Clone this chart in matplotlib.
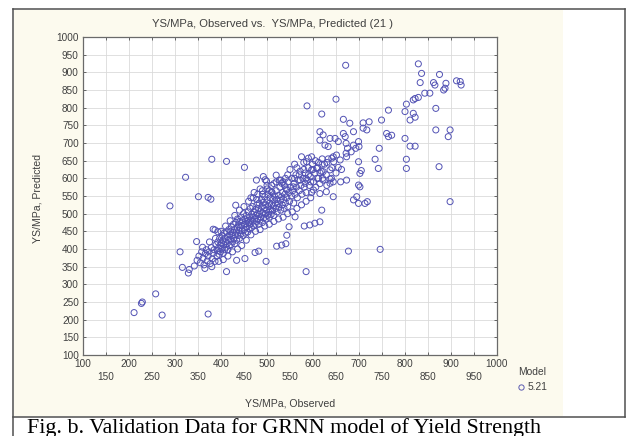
import matplotlib
matplotlib.use("Agg")
import matplotlib.pyplot as plt
from matplotlib.patches import Rectangle
from matplotlib.lines import Line2D

# ---------------- data ----------------
outlier_obs = [211, 227, 229, 258, 272, 372, 289, 323, 351, 372, 378, 380, 412, 451,
               311, 316, 331, 329, 347, 383, 412, 432, 434, 452, 474, 482, 498, 521,
               532, 541, 387, 393, 496, 520, 535, 510, 477, 492, 499, 585, 677, 746,
               543, 548, 561, 581, 593, 604, 615, 619, 688, 699, 713, 718, 898]
outlier_pred = [220, 246, 250, 273, 213, 216, 522, 603, 548, 546, 541, 654, 648, 631,
                392, 348, 342, 332, 421, 456, 336, 524, 368, 373, 390, 394, 365, 408,
                411, 415, 454, 449, 596, 609, 590, 562, 595, 605, 592, 336, 394, 399,
                439, 463, 491, 465, 468, 473, 477, 510, 539, 529, 529, 534, 534]

upper_obs = [587, 619, 650, 671, 666, 680, 709, 722, 749, 764, 717, 709,
             829, 836, 875, 833, 862, 865, 889, 887, 884, 912, 920, 922, 843, 854,
             829, 822, 803, 867, 800, 818, 822, 811, 818,
             867, 898, 894, 771, 800, 764, 760,
             874, 803, 803, 811, 822, 742, 735, 744, 705, 702, 699, 702, 700,
             615, 622, 666, 670, 688, 637, 648, 699, 688, 615, 626, 633, 672, 675,
             683, 672, 651, 641, 645, 575, 590, 586, 597, 699,
             597, 608, 622, 615, 637, 655, 662, 673, 622, 637, 644, 572, 583, 557,
             543, 532, 601, 615, 629, 644, 695, 655, 644, 659, 673, 693]
upper_pred = [805, 782, 824, 920, 767, 756, 757, 760, 765, 793, 737, 742,
              924, 897, 894, 871, 871, 864, 869, 855, 850, 876, 874, 864, 841, 841,
              829, 826, 810, 798, 789, 784, 773, 765, 822,
              737, 737, 718, 722, 713, 718, 727,
              633, 628, 654, 691, 691, 628, 654, 685, 622, 614, 581, 576, 690,
              732, 723, 727, 718, 732, 713, 713, 704, 694, 708, 694, 690, 699, 685,
              675, 671, 666, 657, 647, 661, 657, 647, 661, 647,
              624, 628, 619, 616, 624, 631, 625, 595, 595, 586, 590, 595, 586, 576,
              567, 586, 567, 557, 562, 548, 548, 704, 661, 652, 661, 685]

band_obs = [342, 348, 352, 355, 358, 361, 363, 366, 368, 370, 372, 374, 377, 379, 381,
            383, 385, 387, 389, 391,
            392, 393, 394, 396, 397, 398, 399, 401, 402, 403, 404, 405, 406, 407, 408,
            409, 410, 411, 412, 413, 414, 415, 416, 417, 418, 419, 420,
            421, 422, 423, 424, 425, 426, 427, 428, 429, 430, 431, 432, 433, 434, 435,
            436, 437, 438, 439, 440, 441, 442, 443, 444, 445, 446, 447, 448, 449, 450,
            451, 452, 453, 454, 455, 456, 457, 458, 459, 460, 461, 462, 463, 464, 465,
            466, 467, 468, 469, 470, 471, 472, 473, 474, 475, 476, 477, 478, 479, 480,
            481, 482, 483, 484, 485, 486, 487, 488, 489, 490, 491, 492, 493, 494, 495,
            496, 497, 498, 499, 500, 501, 502, 503, 504, 505, 506, 507, 508, 509, 510,
            511, 512, 513, 514, 515, 516, 518, 519, 520, 521, 522, 524, 525, 526, 528,
            529, 530, 532, 533, 534, 536, 537, 538, 539, 540,
            542, 543, 545, 546, 548, 549, 551, 553, 554, 556, 558, 559, 561, 563, 564,
            566, 568, 570, 572, 574, 576, 578,
            581, 583, 585, 587, 590, 592, 594, 597, 599, 601, 604, 606, 609, 612, 615,
            618, 621, 625, 629, 633, 637, 641,
            465, 472, 478, 485, 490, 500, 505, 515, 527, 545, 550, 560, 565, 580, 590,
            605, 612, 620, 630, 640, 650, 660]
band_pred = [352, 368, 380, 361, 392, 374, 355, 387, 398, 366, 380, 392, 359, 404, 372,
             388, 398, 365, 412, 380,
             395, 420, 402, 385, 430, 410, 392, 418, 400, 438, 425, 388, 412, 445, 398,
             430, 420, 405, 448, 415, 435, 398, 425, 455, 410, 440, 428,
             450, 412, 462, 438, 420, 447, 470, 430, 455, 415, 440, 475, 448, 425, 460,
             485, 438, 468, 452, 430, 478, 460, 442, 490, 466, 452, 480, 438, 500, 470,
             455, 485, 445, 472, 495, 462, 480, 448, 505, 475, 458, 490, 470, 515, 482,
             460, 498, 478, 520, 490, 465, 505, 485, 470, 512, 495, 478, 525, 500, 486,
             515, 470, 530, 498, 482, 508, 490, 540, 520, 475, 502, 532, 488, 515, 548,
             500, 525, 485, 510, 538, 495, 555, 520, 505, 490, 530, 545, 512, 498, 525,
             560, 508, 540, 522, 495, 550, 530, 515, 565, 540, 505, 528, 552, 518, 575,
             538, 510, 548, 525, 560, 540, 515, 580, 555, 530,
             570, 545, 520, 590, 560, 535, 575, 550, 600, 565, 530, 585, 555, 610, 575,
             545, 595, 565, 620, 580, 555, 600,
             575, 615, 560, 595, 630, 580, 605, 560, 640, 590, 615, 575, 600, 645, 585,
             620, 600, 640, 610, 655, 598, 630,
             545, 560, 540, 570, 555, 580, 565, 585, 595, 610, 625, 640, 630, 645, 610,
             650, 600, 640, 580, 600, 615, 590]

edge_obs = [360, 365, 375, 380, 388, 395, 400, 405, 410, 415, 420, 425, 430, 436, 440,
            445, 450, 455, 460, 465, 470, 475, 480, 485, 490, 495, 500, 505, 510, 515,
            520, 525, 530, 535, 540, 545, 555, 565, 575, 585, 595, 560, 570, 580, 600,
            610, 620, 630, 595, 585]
edge_pred = [405, 345, 420, 350, 430, 365, 450, 370, 465, 380, 480, 392, 495, 400, 510,
             410, 520, 425, 535, 440, 545, 450, 555, 455, 565, 465, 570, 470, 580, 478,
             590, 485, 595, 490, 600, 500, 505, 515, 525, 535, 545, 600, 610, 625, 625,
             630, 655, 645, 590, 600]

obs = outlier_obs + upper_obs + band_obs + edge_obs
pred = outlier_pred + upper_pred + band_pred + edge_pred

ticks = list(range(100, 1001, 50))
x_tick_labels = [str(t) if (t // 50) % 2 == 0 else "\n" + str(t) for t in ticks]
y_tick_labels = [str(t) for t in ticks]

title = "YS/MPa, Observed vs.  YS/MPa, Predicted (21 )"
xlabel = "YS/MPa, Observed"
ylabel = "YS/MPa, Predicted"
legend_title = "Model"
legend_entry = "5.21"
caption = "Fig. b. Validation Data for GRNN model of Yield Strength"

# ---------------- figure ----------------
W, H = 627, 436
fig = plt.figure(figsize=(W / 100, H / 100), dpi=100)
fig.patch.set_facecolor("white")

def fx(px):
    return px / W

def fy(py):
    return 1 - py / H

# cream panel + borders
fig.patches.append(Rectangle((fx(14), fy(416)), fx(563) - fx(14), fy(10) - fy(416),
                             transform=fig.transFigure, facecolor="#fcfaee",
                             edgecolor="none", zorder=-5))
bc = "#505050"
for xs, ys in [([13, 13], [9, 436]), ([13, 625], [9, 9]), ([625, 625], [9, 417]),
               ([13, 625], [417, 417])]:
    fig.lines.append(Line2D([fx(v) for v in xs], [fy(v) for v in ys],
                            transform=fig.transFigure, color=bc, lw=1.1, zorder=-4))

ax = fig.add_axes([fx(83), fy(355), fx(497) - fx(83), fy(37) - fy(355)])
ax.set_zorder(1)
ax.set_facecolor("white")
ax.set_xlim(100, 1000)
ax.set_ylim(100, 1000)

ax.set_xticks(ticks)
ax.set_xticklabels(x_tick_labels)
ax.set_yticks(ticks)
ax.set_yticklabels(y_tick_labels)

font = "Liberation Sans"
tc = "#404040"
ax.tick_params(direction="in", length=2.5, width=0.6, top=True, right=True,
               labelsize=7.2, colors="#505050", labelcolor=tc, pad=3)
for lab in ax.get_xticklabels() + ax.get_yticklabels():
    lab.set_fontfamily(font)
    lab.set_linespacing(1.3)

ax.grid(True, color="#dadada", lw=0.6)
ax.set_axisbelow(True)
for s in ax.spines.values():
    s.set_color("#6a6a6a")
    s.set_linewidth(0.9)

ax.scatter(obs, pred, s=19, facecolors="none", edgecolors="#5252b4",
           linewidths=0.7, zorder=3)

fig.text(fx(272), fy(24), title, ha="center", va="center", fontsize=8.1,
         family=font, color=tc)
fig.text(fx(290), fy(403), xlabel, ha="center", va="center", fontsize=7.6,
         family=font, color=tc)
fig.text(fx(37), fy(198), ylabel, ha="center", va="center", rotation=90,
         fontsize=7.6, family=font, color=tc)

# legend
fig.text(fx(518), fy(372), legend_title, ha="left", va="center", fontsize=7.4,
         family=font, color=tc)
fig.lines.append(Line2D([fx(521)], [fy(387)], transform=fig.transFigure, marker="o",
                        markersize=3.8, markerfacecolor="none",
                        markeredgecolor="#5a5ab0", markeredgewidth=0.7, linestyle="none"))
fig.text(fx(528), fy(387), legend_entry, ha="left", va="center", fontsize=7.4,
         family=font, color=tc)

fig.text(fx(27), fy(433), caption, ha="left", va="baseline", fontsize=15.8,
         family="Liberation Serif", color="black")

fig.savefig("out.png", dpi=100, facecolor="white")
